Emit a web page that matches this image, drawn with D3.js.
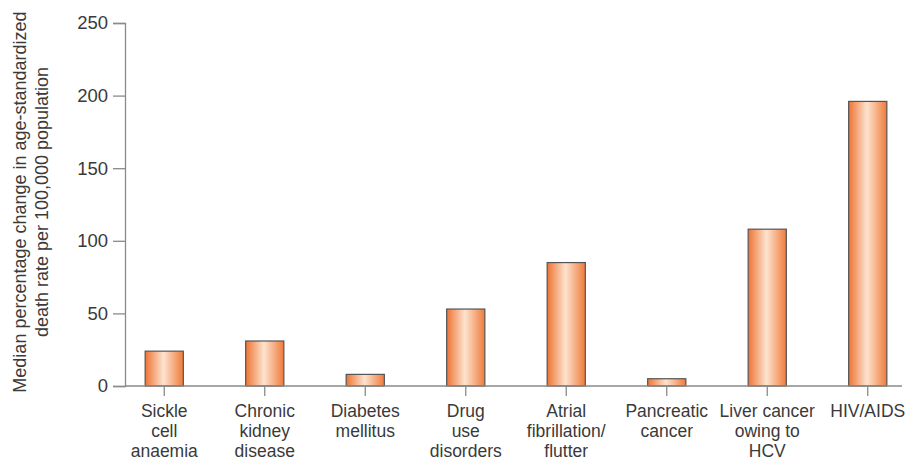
<!DOCTYPE html>
<html>
<head>
<meta charset="utf-8">
<script src="https://cdn.jsdelivr.net/npm/d3@7"></script>
<style>
  body { margin: 0; background: #fff; }
  text { font-family: "Liberation Sans", Arial, sans-serif; fill: #3a3a3a; }
</style>
</head>
<body>
<div id="chart"></div>
<script>
// data
var categories = ["Sickle cell anaemia", "Chronic kidney disease", "Diabetes mellitus",
                  "Drug use disorders", "Atrial fibrillation/ flutter", "Pancreatic cancer",
                  "Liver cancer owing to HCV", "HIV/AIDS"];
var labelLines = [["Sickle", "cell", "anaemia"], ["Chronic", "kidney", "disease"],
                  ["Diabetes", "mellitus"], ["Drug", "use", "disorders"],
                  ["Atrial", "fibrillation/", "flutter"], ["Pancreatic", "cancer"],
                  ["Liver cancer", "owing to", "HCV"], ["HIV/AIDS"]];
var values = [24, 31, 8, 53, 85, 5, 108, 196];
var yTicks = [0, 50, 100, 150, 200, 250];
var yTitle = ["Median percentage change in age-standardized", "death rate per 100,000 population"];

function init(){
    var w = 911, h = 468;

    var svg = d3.select("#chart")
                .append("svg")
                .attr("width", w)
                .attr("height", h);

    var defs = svg.append("defs");
    var grad = defs.append("linearGradient")
                   .attr("id", "barGrad")
                   .attr("x1", "0%").attr("x2", "100%")
                   .attr("y1", "0%").attr("y2", "0%");
    grad.append("stop").attr("offset", "0%").attr("stop-color", "#ee7434");
    grad.append("stop").attr("offset", "48%").attr("stop-color", "#fde3cf");
    grad.append("stop").attr("offset", "100%").attr("stop-color", "#ef7b3a");

    var x = d3.scaleBand()
              .domain(categories)
              .range([114, 918])
              .paddingInner(0.62)
              .paddingOuter(0.31);

    var y = d3.scaleLinear()
              .domain([0, 250])
              .range([386, 23]);

    // y axis
    var yAxis = svg.append("g")
                   .attr("transform", "translate(125,0)")
                   .call(d3.axisLeft(y).tickValues(yTicks).tickSize(12).tickPadding(5));
    yAxis.select(".domain").attr("stroke", "#8a8a8a").attr("stroke-width", 1.3);
    yAxis.selectAll(".tick line").attr("stroke", "#8a8a8a").attr("stroke-width", 1.3);
    yAxis.selectAll(".tick text")
         .attr("font-size", 18.5)
         .attr("fill", "#3a3a3a")
         .attr("font-family", "Liberation Sans, Arial, sans-serif");

    // bars
    svg.selectAll("rect.bar")
       .data(values)
       .enter()
       .append("rect")
       .attr("class", "bar")
       .attr("x", function(d, i){ return x(categories[i]); })
       .attr("width", x.bandwidth())
       .attr("y", function(d){ return y(d); })
       .attr("height", function(d){ return y(0) - y(d); })
       .attr("fill", "url(#barGrad)")
       .attr("stroke", "#555")
       .attr("stroke-width", 1.2);

    // x axis
    var xAxis = svg.append("g")
                   .attr("transform", "translate(0,386)");
    xAxis.append("line")
         .attr("x1", 125).attr("x2", 902)
         .attr("y1", 0).attr("y2", 0)
         .attr("stroke", "#8a8a8a").attr("stroke-width", 1.3);

    var ticks = xAxis.selectAll("g.xtick")
                     .data(categories)
                     .enter()
                     .append("g")
                     .attr("class", "xtick")
                     .attr("transform", function(d){
                         return "translate(" + (x(d) + x.bandwidth() / 2) + ",0)";
                     });
    ticks.append("line")
         .attr("y1", 0).attr("y2", 10)
         .attr("stroke", "#8a8a8a").attr("stroke-width", 1.3);
    ticks.append("text")
         .attr("text-anchor", "middle")
         .attr("font-size", 17.5)
         .selectAll("tspan")
         .data(function(d, i){ return labelLines[i]; })
         .enter()
         .append("tspan")
         .attr("x", 0)
         .attr("y", function(d, i){ return 31 + i * 20; })
         .text(function(d){ return d; });

    // y title
    svg.append("text")
       .attr("transform", "translate(26,202) rotate(-90)")
       .attr("text-anchor", "middle")
       .attr("font-size", 18)
       .selectAll("tspan")
       .data(yTitle)
       .enter()
       .append("tspan")
       .attr("x", 0)
       .attr("y", function(d, i){ return i * 22; })
       .text(function(d){ return d; });
}

window.onload = init;
</script>
</body>
</html>
